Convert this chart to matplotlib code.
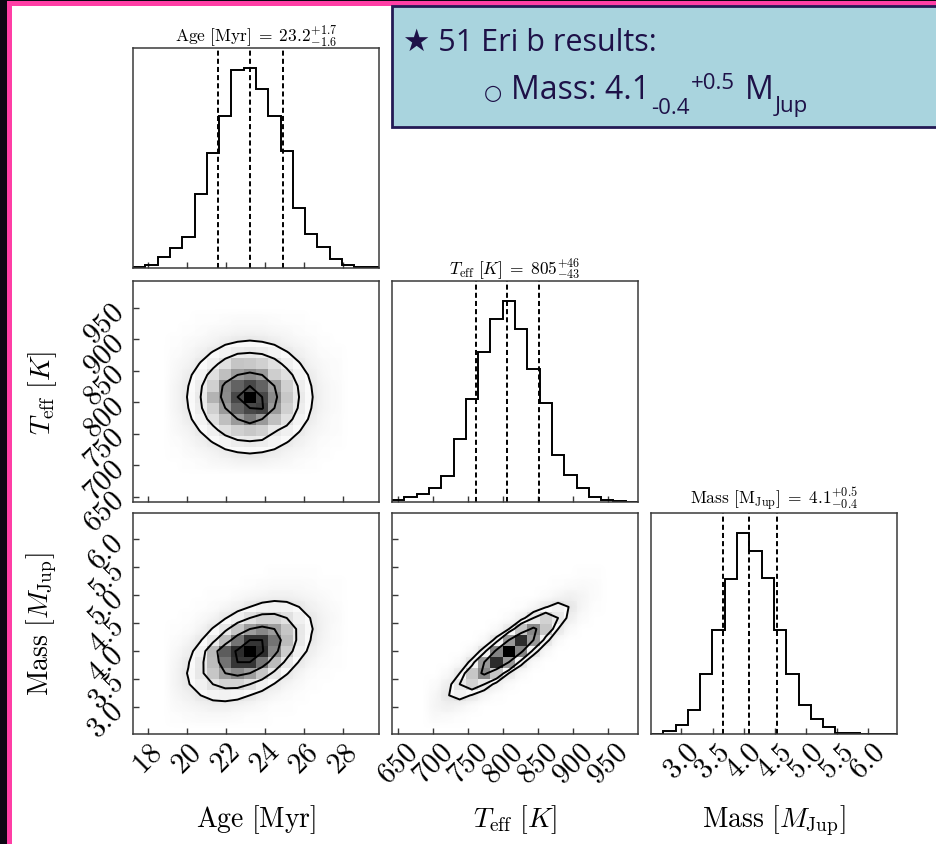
import numpy as np
import matplotlib
matplotlib.use("Agg")
import matplotlib.pyplot as plt
from matplotlib.patches import Rectangle
from matplotlib.colors import LinearSegmentedColormap

plt.rcParams.update({
    "font.family": "serif",
    "font.serif": ["cmr10"],
    "mathtext.fontset": "cm",
    "axes.formatter.use_mathtext": True,
    "axes.unicode_minus": False,
})

# ------------------------------------------------------------------ data
axis_labels = [r"$\mathrm{Age\ [Myr]}$", r"$T_{\mathrm{eff}}\ [K]$",
               r"$\mathrm{Mass}\ [M_{\mathrm{Jup}}]$"]
title_names = [r"\mathrm{Age\ [Myr]}", r"T_{\mathrm{eff}}\ [K]",
               r"\mathrm{Mass\ [M_{Jup}]}"]
medians = ["23.2", "805", "4.1"]
errs_plus = ["1.7", "46", "0.5"]
errs_minus = ["1.6", "43", "0.4"]

age_range = [17.23, 29.85]
teff_range = [641.5, 993.0]
mass_range = [2.51, 6.465]

age_ticks = [18, 20, 22, 24, 26, 28]
teff_ticks = [650, 700, 750, 800, 850, 900, 950]
mass_ticks = [3.0, 3.5, 4.0, 4.5, 5.0, 5.5, 6.0]

age_quantiles = [21.57, 23.23, 24.94]
teff_quantiles = [762, 806, 851]
mass_quantiles = [3.66, 4.09, 4.54]

# 1D histograms (20 bins over each range)
age_hist = [3, 8, 33, 60, 92, 220, 343, 455, 593, 598,
            536, 453, 350, 180, 103, 63, 28, 8, 3, 2]
teff_hist = [7, 14, 24, 42, 79, 189, 307, 449, 546, 601,
             519, 399, 297, 141, 81, 41, 14, 7, 3, 1]
mass_hist = [1, 8, 28, 71, 181, 311, 466, 603, 548, 469,
             313, 179, 88, 44, 20, 4, 2, 1, 0, 0]

# 2D histogram windows (rows listed top -> bottom), first column bin, first row bin
age_teff_start = (3, 3)
age_teff_counts = [
    [0, 0, 1, 1, 2, 3, 3, 3, 2, 1, 1, 0, 0, 0],
    [0, 1, 2, 4, 5, 7, 7, 7, 5, 4, 2, 1, 0, 0],
    [1, 3, 5, 8, 12, 15, 16, 15, 12, 8, 5, 3, 1, 0],
    [2, 5, 10, 16, 23, 29, 31, 29, 23, 16, 10, 5, 2, 1],
    [4, 8, 16, 26, 38, 52, 51, 47, 38, 26, 16, 8, 4, 2],
    [5, 12, 23, 38, 55, 69, 74, 69, 48, 38, 23, 12, 5, 2],
    [7, 15, 29, 47, 75, 86, 93, 86, 69, 47, 29, 15, 7, 3],
    [7, 16, 31, 60, 74, 93, 110, 93, 74, 51, 31, 16, 7, 3],
    [7, 15, 29, 47, 69, 86, 93, 95, 69, 47, 29, 15, 7, 3],
    [5, 12, 23, 38, 55, 69, 80, 69, 55, 38, 23, 12, 5, 2],
    [4, 8, 16, 26, 38, 47, 51, 47, 33, 26, 16, 8, 4, 2],
    [2, 5, 10, 16, 23, 29, 31, 29, 23, 16, 10, 5, 2, 1],
    [1, 3, 5, 8, 12, 15, 16, 15, 12, 8, 5, 3, 1, 0],
    [0, 1, 2, 4, 5, 7, 7, 7, 5, 4, 2, 1, 0, 0],
]
age_mass_start = (3, 1)
age_mass_counts = [
    [0, 0, 0, 0, 0, 0, 0, 0, 1, 1, 1, 1, 0, 0],
    [0, 0, 0, 0, 0, 0, 1, 2, 3, 3, 3, 2, 1, 1],
    [0, 0, 0, 1, 1, 3, 5, 7, 9, 9, 7, 5, 3, 1],
    [0, 0, 1, 2, 5, 9, 15, 20, 22, 20, 15, 9, 5, 2],
    [0, 1, 3, 7, 14, 24, 34, 41, 41, 34, 24, 14, 7, 3],
    [1, 2, 7, 16, 30, 47, 62, 68, 62, 47, 30, 16, 7, 2],
    [2, 6, 14, 29, 51, 74, 89, 89, 74, 51, 29, 14, 6, 2],
    [4, 10, 23, 52, 80, 91, 100, 91, 69, 44, 23, 10, 4, 1],
    [6, 14, 29, 51, 74, 89, 89, 74, 51, 29, 14, 6, 2, 1],
    [7, 16, 30, 47, 62, 68, 62, 47, 30, 16, 7, 2, 1, 0],
    [7, 14, 24, 34, 41, 41, 34, 24, 14, 7, 3, 1, 0, 0],
    [5, 9, 15, 20, 22, 20, 15, 9, 5, 2, 1, 0, 0, 0],
    [3, 5, 7, 9, 9, 7, 5, 3, 1, 1, 0, 0, 0, 0],
    [1, 2, 3, 3, 3, 2, 1, 1, 0, 0, 0, 0, 0, 0],
]
teff_mass_start = (3, 1)
teff_mass_counts = [
    [0, 0, 0, 0, 0, 0, 0, 0, 0, 0, 0, 0, 1, 1],
    [0, 0, 0, 0, 0, 0, 0, 0, 0, 0, 1, 2, 3, 2],
    [0, 0, 0, 0, 0, 0, 0, 0, 0, 2, 6, 9, 6, 2],
    [0, 0, 0, 0, 0, 0, 0, 1, 5, 15, 22, 15, 5, 1],
    [0, 0, 0, 0, 0, 0, 2, 10, 29, 42, 29, 10, 2, 0],
    [0, 0, 0, 0, 0, 3, 16, 47, 68, 47, 16, 3, 0, 0],
    [0, 0, 0, 0, 3, 21, 63, 91, 63, 21, 3, 0, 0, 0],
    [0, 0, 0, 4, 23, 69, 100, 69, 23, 4, 0, 0, 0, 0],
    [0, 0, 3, 21, 63, 91, 63, 21, 3, 0, 0, 0, 0, 0],
    [0, 3, 16, 47, 68, 47, 16, 3, 0, 0, 0, 0, 0, 0],
    [2, 10, 29, 42, 29, 10, 2, 0, 0, 0, 0, 0, 0, 0],
    [5, 15, 22, 15, 5, 1, 0, 0, 0, 0, 0, 0, 0, 0],
    [6, 9, 6, 2, 0, 0, 0, 0, 0, 0, 0, 0, 0, 0],
    [3, 2, 1, 0, 0, 0, 0, 0, 0, 0, 0, 0, 0, 0],
]

box_line1 = "\u2605 51 Eri b results:"
box_bullet = "\u25cb"
box_mass = "Mass: 4.1"
box_minus = "-0.4"
box_plus = "+0.5"
box_unit = "M"
box_unit_sub = "Jup"

# ------------------------------------------------------------------ figure
W, H = 936, 845
fig = plt.figure(figsize=(W / 100, H / 100), dpi=100)
fig.patch.set_facecolor("#0c0613")
fig.add_artist(Rectangle((7 / W, 0), 1, 1 - 2 / H, transform=fig.transFigure,
                         facecolor="#ff3ea5", edgecolor="none", zorder=-3))
fig.add_artist(Rectangle((12 / W, 0), 1, 1 - 7 / H, transform=fig.transFigure,
                         facecolor="white", edgecolor="none", zorder=-2))

ranges = [age_range, teff_range, mass_range]
ticks = [age_ticks, teff_ticks, mass_ticks]
hists = [age_hist, teff_hist, mass_hist]
quants = [age_quantiles, teff_quantiles, mass_quantiles]
edges = [np.linspace(r[0], r[1], len(h) + 1) for r, h in zip(ranges, hists)]
pairs = {(1, 0): (age_teff_counts, age_teff_start),
         (2, 0): (age_mass_counts, age_mass_start),
         (2, 1): (teff_mass_counts, teff_mass_start)}

col_left = [133, 392, 651]
col_w = 246
row_top = [49, 282, 514]
row_h = [220, 221, 221]

spine_col = "#3a3a3a"
dens_cmap = LinearSegmentedColormap.from_list("dens", ["k", (1, 1, 1, 0)])
halo_cmap = LinearSegmentedColormap.from_list("halo", ["white", "#e2e2e2"])
sig_levels = 1.0 - np.exp(-0.5 * np.arange(0.5, 2.1, 0.5) ** 2)


def centers_padded(e):
    d = e[1] - e[0]
    c = 0.5 * (e[1:] + e[:-1])
    return np.concatenate([[c[0] - d], c, [c[-1] + d]])


def draw_2d(ax, counts, start, xe, ye):
    win = np.array(counts, float)[::-1]
    full = np.zeros((len(ye) - 1, len(xe) - 1))
    c0, r0 = start
    full[r0:r0 + win.shape[0], c0:c0 + win.shape[1]] = win
    xc = centers_padded(xe)
    yc = centers_padded(ye)
    Hp = np.pad(full, 1)
    dx = xe[1] - xe[0]
    dy = ye[1] - ye[0]
    halo = np.clip(Hp / (0.2 * Hp.max()), 0, 1)
    ax.imshow(halo, extent=(xc[0] - dx / 2, xc[-1] + dx / 2, yc[0] - dy / 2, yc[-1] + dy / 2),
              origin="lower", interpolation="bilinear", cmap=halo_cmap, aspect="auto",
              vmin=0, vmax=1, zorder=0)
    flat = np.sort(full.ravel())[::-1]
    cs = np.cumsum(flat)
    cs /= cs[-1]
    V = np.empty(len(sig_levels))
    for k, lv in enumerate(sig_levels):
        sel = flat[cs <= lv]
        V[k] = sel[-1] if len(sel) else flat[0]
    V.sort()
    m = np.diff(V) == 0
    while np.any(m):
        V[np.where(m)[0][0]] *= 0.9999
        m = np.diff(V) == 0
    ax.contourf(xc, yc, Hp, [V.min(), Hp.max()], colors=["white"], antialiased=False, zorder=1)
    ax.pcolormesh(xe, ye, full.max() - full, cmap=dens_cmap, zorder=2)
    ax.contour(xc, yc, Hp, V, colors="k", linewidths=1.4, zorder=3)


for i in range(3):
    for j in range(i + 1):
        rect = (col_left[j] / W, 1 - (row_top[i] + row_h[i]) / H, col_w / W, row_h[i] / H)
        ax = fig.add_axes(rect)
        for s in ax.spines.values():
            s.set_color(spine_col)
            s.set_linewidth(1.1)
        ax.tick_params(direction="in", length=4, width=1, color=spine_col,
                       labelsize=21, pad=3)
        if i == j:
            ax.hist(0.5 * (edges[i][1:] + edges[i][:-1]), bins=edges[i], weights=hists[i],
                    histtype="step", color="k", lw=1.4)
            for q in quants[i]:
                ax.axvline(q, color="k", ls=(0, (2.6, 1.6)), lw=1.4)
            ax.set_xlim(ranges[i])
            ax.set_ylim(0, 1.1 * max(hists[i]))
            ax.set_yticks([])
            ax.set_title(r"$%s\;=\;%s^{+%s}_{-%s}$" % (title_names[i], medians[i],
                                                     errs_plus[i], errs_minus[i]),
                         fontsize=12.5, pad=4)
        else:
            counts, start = pairs[(i, j)]
            draw_2d(ax, counts, start, edges[j], edges[i])
            ax.set_xlim(ranges[j])
            ax.set_ylim(ranges[i])
            ax.set_yticks(ticks[i])
            if j == 0:
                ax.tick_params(axis="y", labelrotation=45)
                ax.set_ylabel(axis_labels[i], fontsize=20)
                ax.yaxis.set_label_coords(-0.30, 0.5)
            else:
                ax.tick_params(axis="y", labelleft=False)
        ax.set_xticks(ticks[j])
        if i == 2:
            ax.tick_params(axis="x", labelrotation=45)
            ax.set_xlabel(axis_labels[j], fontsize=20)
            ax.xaxis.set_label_coords(0.5, -0.31)
        else:
            ax.tick_params(axis="x", labelbottom=False)

# ------------------------------------------------------------------ result box
ov = fig.add_axes([0, 0, 1, 1])
ov.set_zorder(10)
ov.set_axis_off()
ov.patch.set_alpha(0)
ov.set_xlim(0, W)
ov.set_ylim(H, 0)
ov.add_patch(Rectangle((392, 7), 600, 121, facecolor="#a9d4de", edgecolor="#241a55", lw=2))

fam = ["Open Sans", "DejaVu Sans"]
navy = "#1e1148"
ov.text(403, 51, box_line1, fontsize=22, family=fam, color=navy, va="baseline")
y2 = 99
t0 = ov.text(484, y2, box_bullet, fontsize=15, family=fam, color=navy, va="baseline")
t1 = ov.annotate(box_mass, xy=(1, y2), xycoords=(t0, "data"), xytext=(6, 0),
                 textcoords="offset points", fontsize=23, family=fam, color=navy, va="baseline")
t2 = ov.annotate(box_minus, xy=(1, y2), xycoords=(t1, "data"), xytext=(1, -11),
                 textcoords="offset points", fontsize=16, family=fam, color=navy, va="baseline")
t3 = ov.annotate(box_plus, xy=(1, y2), xycoords=(t2, "data"), xytext=(1, 7.5),
                 textcoords="offset points", fontsize=16, family=fam, color=navy, va="baseline")
t4 = ov.annotate(box_unit, xy=(1, y2), xycoords=(t3, "data"), xytext=(7, 0),
                 textcoords="offset points", fontsize=23, family=fam, color=navy, va="baseline")
t5 = ov.annotate(box_unit_sub, xy=(1, y2), xycoords=(t4, "data"), xytext=(1, -9.4),
                 textcoords="offset points", fontsize=16, family=fam, color=navy, va="baseline")

fig.savefig("out.png", dpi=100, facecolor=fig.get_facecolor())
